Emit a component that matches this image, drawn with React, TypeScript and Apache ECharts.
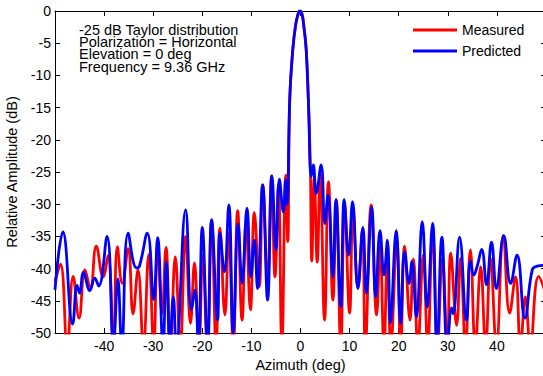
import React, { useEffect, useRef } from "react";
import * as echarts from "echarts";

const measuredAz = [
  -50, -48.9, -47.5, -46.3, -45.1, -43.9, -42.8, -41.6, -40.2, -39.2, -38.1, -37.3, -36.3, -35.1, -34.1, -33.1, -32.0,
  -30.9, -29.9, -29.1, -28.2, -27.4, -26.5, -25.5, -24.5, -23.4, -22.4, -21.6, -20.7, -19.9, -19.0, -18.1, -17.2,
  -16.4, -15.4, -14.6, -13.7, -12.8, -11.9, -11.1, -10.2, -9.4, -8.4, -7.7, -6.7, -5.9, -5.2, -4.5, -3.8, -3.0,
  -2.6, -2.2, -1.57, -1.0, -0.5, -0.15, 0.3, 0.7, 1.16, 1.6, 2.0, 2.3, 2.8, 3.4, 4.0, 4.9, 5.7, 6.6, 7.3, 8.2, 9.0,
  10.0, 10.7, 11.7, 12.6, 13.2, 14.4, 15.5, 16.2, 17.0, 17.7, 18.4, 19.6, 20.4, 21.2, 22.3, 23.0, 23.9, 25.0, 25.9,
  26.9, 27.9, 28.9, 29.9, 30.6, 31.8, 32.6, 33.6, 34.6, 35.6, 36.7, 37.7, 38.7, 39.9, 41.3, 42.6, 43.8, 44.8, 45.8,
  46.8, 48.5, 50,
];
const measuredDb = [
  -42, -39.3, -52, -41.2, -47.7, -40.2, -43.1, -36.5, -41.3, -38, -52, -36.6, -42.3, -36.9, -47, -40.2, -52,
  -37.8, -52, -36.5, -47, -36.7, -52, -38.2, -52, -35.0, -48.5, -39.1, -52, -37.9, -52, -32.5, -52,
  -33.7, -47.2, -34.5, -52, -31.0, -48, -33, -46.4, -31.3, -42.8, -27, -42, -25.6, -41.3, -27.3, -52, -25.5,
  -35.8, -14, -6, -2.2, -0.5, 0, -0.5, -2.5, -6, -13.8, -24, -38.8, -25.8, -39, -25.2, -48, -26.5, -44.9, -29.3, -52, -30.1,
  -46.9, -31.2, -43, -34, -52, -30.1, -47.2, -36.5, -52, -38, -52, -35.6, -52, -36.5, -48, -38.5, -52, -37.9, -52,
  -34.5, -52, -38.4, -52, -37.6, -48.8, -38.4, -52, -37.1, -52, -39.7, -52, -38.4, -52, -34.9, -46.9, -41.3, -52, -44.4,
  -52, -41.2, -44,
];

const predictedAz = [
  -50, -48.4, -46.4, -45.5, -45.0, -44.2, -42.9, -41.9, -41.1, -39.4, -38.1, -37.2, -36.4, -35.1, -33.4, -32.8,
  -31.2, -29.9, -29.1, -28.0, -27.3, -26.6, -25.9, -25.3, -23.4, -22.2, -21.5, -20.8, -20.0, -18.9, -18.1, -16.9,
  -16.4, -15.5, -14.6, -13.7, -12.7, -11.9, -10.9, -10.1, -9.4, -8.75, -7.7, -6.7, -5.8, -5.0, -4.3, -3.5, -3.0,
  -2.7, -2.2, -1.57, -1.0, -0.5, -0.15, 0.3, 0.7, 1.16, 1.6, 2.2, 2.6, 3.2, 4.2, 4.95, 5.6, 6.6, 7.2, 8.2, 8.9, 9.8,
  10.6, 11.7, 12.7, 13.4, 14.5, 15.3, 16.2, 17.0, 17.7, 18.3, 19.5, 20.4, 21.2, 22.1, 22.7, 23.6, 24.8, 25.8, 26.9,
  27.8, 28.8, 29.9, 30.8, 31.1, 32.4, 33.8, 34.6, 35.3, 36.0, 36.9, 37.9, 38.9, 39.9, 41.4, 42.8, 44.1, 45.7, 47.2,
  48.2, 50,
];
const predictedDb = [
  -43.3, -34.3, -48.6, -42.6, -43.8, -40.6, -43.4, -41.5, -42.7, -35.0, -52, -41.6, -52, -34.5, -39.9, -39.6,
  -34.5, -44.8, -35.2, -52, -39, -52, -44.4, -52, -30.9, -46.4, -43.3, -52, -33.6, -52, -32.4, -48,
  -34.5, -40.5, -30.1, -50, -33.1, -42.3, -30.6, -41.3, -35.6, -43.1, -27.0, -44.9, -25.6, -37.1, -26.1, -31.2, -26.3,
  -30, -13.8, -6, -2.2, -0.5, 0, -0.5, -2.5, -6, -13.8, -25.7, -23.9, -28.3, -23.9, -33, -28.6, -41.3, -29.3, -45.9, -29.3, -37.9,
  -29.6, -43.1, -33.6, -43.8, -30.4, -44.4, -34.1, -41, -35.6, -48.5, -34.1, -48.5, -37.4, -42.3, -38.9, -47.5, -32.7, -46, -33,
  -52, -35.1, -52, -46.1, -47, -35.1, -48.1, -38.8, -41, -39.6, -37, -42.5, -35.9, -43.1, -34.9, -42.3, -37.9, -47.7, -40.2,
  -39.6, -39.5,
];

const xTicks = [-50, 50, 10];
const yRange = [-50, 0, 5];
const annotationLines = [
  "-25 dB Taylor distribution",
  "Polarization = Horizontal",
  "Elevation = 0 deg",
  "Frequency = 9.36 GHz",
];

const FONT = "Liberation Sans, Arial, sans-serif";

export default function App() {
  const ref = useRef<HTMLDivElement>(null);
  useEffect(() => {
    if (!ref.current) return;
    const chart = echarts.init(ref.current, undefined, { renderer: "svg" });
    const toPairs = (xs: number[], ys: number[]) => xs.map((x, i) => [x, ys[i]]);
    const axisCommon = {
      axisLine: { show: true, onZero: false, lineStyle: { color: "#000", width: 1 } },
      axisTick: { show: true, inside: true, length: 5, lineStyle: { color: "#000" } },
      splitLine: { show: false },
    };
    const legendCommon = {
      left: 413,
      padding: 0,
      icon: "rect",
      itemWidth: 44,
      itemHeight: 3,
      itemGap: 5,
      textStyle: { fontSize: 14, color: "#000", fontFamily: FONT },
    };
    chart.setOption({
      animation: false,
      backgroundColor: "#fff",
      textStyle: { fontFamily: FONT },
      grid: { left: 55, top: 11, width: 491, height: 322, containLabel: false, outerBoundsMode: "none" },
      legend: [
        { ...legendCommon, data: ["Measured"], top: 23 },
        { ...legendCommon, data: ["Predicted"], top: 44 },
      ],
      xAxis: [
        {
          type: "value",
          min: xTicks[0],
          max: xTicks[1],
          interval: xTicks[2],
          position: "bottom",
          name: "Azimuth (deg)",
          nameLocation: "middle",
          nameGap: 22,
          nameTextStyle: { fontSize: 14.5, color: "#000", fontFamily: FONT },
          axisLabel: {
            showMinLabel: false,
            showMaxLabel: false,
            fontSize: 14,
            color: "#000",
            margin: 6,
            fontFamily: FONT,
          },
          ...axisCommon,
        },
        {
          type: "value",
          min: xTicks[0],
          max: xTicks[1],
          interval: xTicks[2],
          position: "top",
          axisLabel: { show: false },
          ...axisCommon,
        },
      ],
      yAxis: [
        {
          type: "value",
          min: yRange[0],
          max: yRange[1],
          interval: yRange[2],
          position: "left",
          name: "Relative Amplitude (dB)",
          nameLocation: "middle",
          nameGap: 36,
          nameTextStyle: { fontSize: 14.5, color: "#000", fontFamily: FONT },
          axisLabel: { fontSize: 14, color: "#000", margin: 4, fontFamily: FONT },
          ...axisCommon,
        },
        {
          type: "value",
          min: yRange[0],
          max: yRange[1],
          interval: yRange[2],
          position: "right",
          axisLabel: { show: false },
          ...axisCommon,
        },
      ],
      series: [
        {
          name: "Measured",
          type: "line",
          data: toPairs(measuredAz, measuredDb),
          showSymbol: false,
          smooth: 0.45,
          clip: true,
          itemStyle: { color: "#ff0000" },
          lineStyle: { color: "#ff0000", width: 2.8 },
        },
        {
          name: "Predicted",
          type: "line",
          data: toPairs(predictedAz, predictedDb),
          showSymbol: false,
          smooth: 0.45,
          clip: true,
          itemStyle: { color: "#0000ff" },
          lineStyle: { color: "#0000ff", width: 2.8 },
        },
      ],
      graphic: [
        {
          type: "text",
          left: 79,
          top: 22,
          style: {
            text: annotationLines.join("\n"),
            fontSize: 14.5,
            lineHeight: 12.4,
            fontFamily: FONT,
            fill: "#000",
          },
        },
      ],
    });
    return () => chart.dispose();
  }, []);
  return (
    <div
      ref={ref}
      style={{ position: "fixed", left: 0, top: 0, width: 543, height: 376, background: "#fff" }}
    />
  );
}
